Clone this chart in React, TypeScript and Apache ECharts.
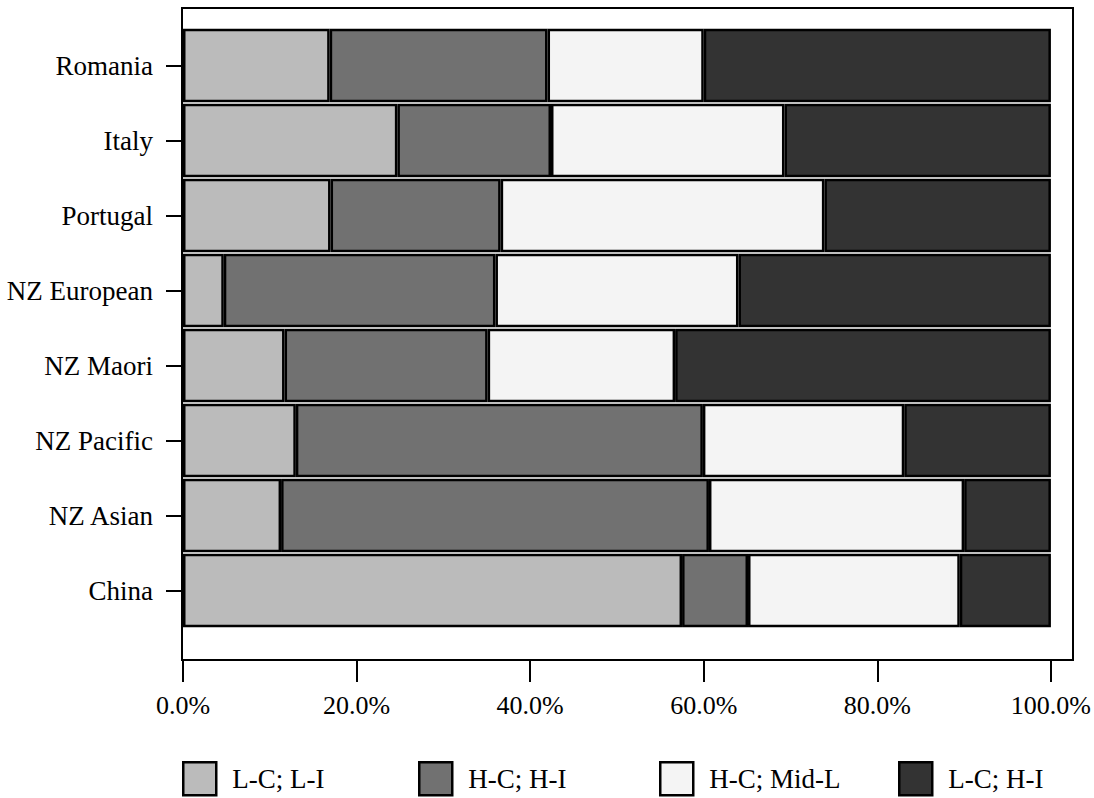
import React, { useEffect, useRef } from "react";
import * as echarts from "echarts";

const categories = ["Romania", "Italy", "Portugal", "NZ European", "NZ Maori", "NZ Pacific", "NZ Asian", "China"];
const seriesNames = ["L-C; L-I", "H-C; H-I", "H-C; Mid-L", "L-C; H-I"];
const lcli = [16.9, 24.7, 17.0, 4.7, 11.7, 13.0, 11.3, 57.5];
const hchi = [25.1, 17.7, 19.6, 31.3, 23.4, 46.9, 49.3, 7.6];
const hcmid = [18.0, 26.9, 37.3, 28.0, 21.6, 23.2, 29.4, 24.4];
const lchi = [40.0, 30.7, 26.1, 36.0, 43.3, 16.9, 10.0, 10.5];
const xTicks = [0, 20, 40, 60, 80, 100];
const colors = ["#bbbbbb", "#717171", "#f4f4f4", "#333333"];

const FONT = "Liberation Serif";

export default function App() {
  const ref = useRef<HTMLDivElement>(null);
  useEffect(() => {
    if (!ref.current) return;
    const chart = echarts.init(ref.current, undefined, { renderer: "svg" });
    const values = [lcli, hchi, hcmid, lchi];
    const legendLefts = [177, 413, 654, 893];
    chart.setOption({
      animation: false,
      backgroundColor: "#ffffff",
      textStyle: { fontFamily: FONT },
      grid: { left: 183, right: 41, top: 28, bottom: 170 },
      xAxis: {
        type: "value",
        min: xTicks[0],
        max: xTicks[xTicks.length - 1],
        interval: 20,
        offset: 32,
        axisLine: { show: false },
        axisTick: { show: true, length: 22, lineStyle: { color: "#000", width: 2 } },
        splitLine: { show: false },
        axisLabel: {
          margin: 32,
          color: "#000",
          fontFamily: FONT,
          fontSize: 26,
          formatter: (v: number) => v.toFixed(1) + "%",
        },
      },
      yAxis: {
        type: "category",
        data: categories,
        inverse: true,
        axisLine: { show: false },
        axisTick: { show: true, length: 17, alignWithLabel: true, lineStyle: { color: "#000", width: 2 } },
        axisLabel: { margin: 30, color: "#000", fontFamily: FONT, fontSize: 27 },
      },
      legend: seriesNames.map((n, i) => ({
        data: [n],
        left: legendLefts[i],
        top: 756,
        icon: "rect",
        itemWidth: 33,
        itemHeight: 33,
        itemStyle: { borderColor: "#000", borderWidth: 2.5 },
        textStyle: { color: "#000", fontFamily: FONT, fontSize: 27, padding: [0, 0, 0, 11] },
        selectedMode: false,
      })),
      series: seriesNames.map((n, i) => ({
        name: n,
        type: "bar",
        stack: "total",
        data: values[i],
        barCategoryGap: "2%",
        itemStyle: { color: colors[i], borderColor: "#000", borderWidth: 2.5 },
      })),
      graphic: [
        {
          type: "rect",
          shape: { x: 182, y: 8, width: 891, height: 652 },
          style: { fill: "none", stroke: "#000", lineWidth: 2 },
          z: 100,
        },
      ],
    });
    return () => chart.dispose();
  }, []);
  return <div ref={ref} style={{ position: "fixed", left: 0, top: 0, width: 1094, height: 798 }} />;
}
